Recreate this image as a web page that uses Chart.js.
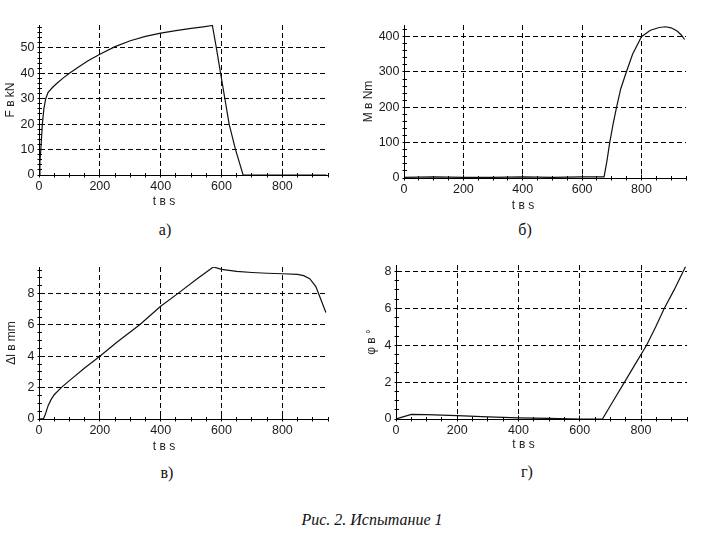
<!DOCTYPE html>
<html><head><meta charset="utf-8">
<script src="https://cdn.jsdelivr.net/npm/chart.js@4.4.1/dist/chart.umd.min.js"></script>
<style>
html,body{margin:0;padding:0;background:#fff;width:708px;height:539px;overflow:hidden;position:relative}
canvas{position:absolute}
.cap{position:absolute;font-family:"Liberation Serif","Times New Roman",serif;font-size:16px;color:#111;transform:translate(-50%,-50%);white-space:nowrap;line-height:1}
#fig{font-style:italic;font-size:16px}
</style></head><body>
<canvas id="cA"></canvas>
<canvas id="cB"></canvas>
<canvas id="cC"></canvas>
<canvas id="cD"></canvas>
<div class="cap" style="left:165px;top:230px">а)</div>
<div class="cap" style="left:525px;top:230px">б)</div>
<div class="cap" style="left:167px;top:473px">в)</div>
<div class="cap" style="left:527px;top:472px">г)</div>
<div class="cap" id="fig" style="left:372px;top:520px">Рис. 2. Испытание 1</div>
<script>
// ---- data ----
const tForce = [0, 3, 6, 11, 16, 22, 30, 45, 60, 80, 100, 130, 160, 200, 250, 300, 350, 400, 450, 500, 540, 570, 583, 597, 611, 625, 646, 671, 700, 800, 945];
const force  = [0, 5, 10, 20, 26, 30, 32.5, 34.5, 36.2, 38.2, 40, 42.5, 44.8, 47.5, 50.5, 52.8, 54.5, 55.8, 56.8, 57.7, 58.3, 58.8, 50, 40, 30, 20, 10, 0, 0, 0, 0];

const tMoment = [0, 100, 200, 300, 400, 500, 600, 674, 684, 693, 705, 716, 730, 749, 770, 800, 830, 860, 880, 900, 920, 935, 945];
const moment  = [2, 3, 2, 2, 3, 2, 3, 3, 50, 100, 155, 200, 252, 300, 350, 400, 418, 426, 428, 425, 416, 404, 392];

const tElong = [0, 15, 20, 25, 30, 40, 50, 73, 100, 150, 200, 259, 330, 400, 456, 520, 573, 600, 650, 700, 750, 800, 850, 870, 890, 910, 925, 943];
const elong  = [0, 0.03, 0.25, 0.55, 0.85, 1.25, 1.55, 2.0, 2.45, 3.25, 4.0, 4.95, 6.0, 7.2, 8.0, 8.95, 9.7, 9.55, 9.42, 9.35, 9.3, 9.27, 9.23, 9.15, 8.95, 8.45, 7.7, 6.8];

const tAngle = [0, 20, 50, 100, 200, 300, 400, 500, 600, 674, 710, 746, 782, 818, 848, 876, 908, 945];
const angle  = [0, 0.1, 0.25, 0.24, 0.18, 0.12, 0.06, 0.03, 0, 0, 1.0, 2.0, 3.0, 4.0, 5.0, 6.0, 7.0, 8.25];

const xTitle = 't в s';
const yTitles = ['F в kN', 'M в Nm', 'Δl в mm', 'φ в °'];
const tMax = 950;
const yMaxes = [59, 433, 9.7, 8.35];
const yMajor = [10, 100, 2, 2];
const yMinor = [2, 20, 0.5, 0.5];
const xMajor = 200, xMinor = 50;

const FONT = '"Liberation Sans", Arial, sans-serif';

const tickMarks = {
  id: 'tickMarks',
  afterDatasetsDraw(chart, args, o) {
    const {ctx, scales: {x, y}, chartArea: ca} = chart;
    ctx.save();
    ctx.strokeStyle = '#000';
    ctx.lineWidth = 1;
    ctx.beginPath();
    const yb = Math.round(ca.bottom - 0.5) + 0.5;
    const xl = Math.round(ca.left - 0.5) + 0.5;
    const eps = 1e-6;
    for (let v = 0; v <= x.max + eps; v += o.xMinor) {
      const px = Math.round(x.getPixelForValue(v) - 0.5) + 0.5;
      const major = Math.abs(v / o.xMajor - Math.round(v / o.xMajor)) < eps;
      ctx.moveTo(px, yb - (major ? 4 : 2.5));
      ctx.lineTo(px, yb + 2);
    }
    for (let v = 0; v <= y.max + eps; v += o.yMinor) {
      const py = Math.round(y.getPixelForValue(v) - 0.5) + 0.5;
      const major = Math.abs(v / o.yMajor - Math.round(v / o.yMajor)) < eps;
      ctx.moveTo(xl - 2, py);
      ctx.lineTo(xl + (major ? 4 : 2.5), py);
    }
    ctx.stroke();
    ctx.restore();
  }
};

function makeChart(id, pos, t, vals, idx) {
  const cv = document.getElementById(id);
  cv.width = pos.w; cv.height = pos.h;
  cv.style.left = pos.left + 'px'; cv.style.top = pos.top + 'px';
  cv.style.width = pos.w + 'px'; cv.style.height = pos.h + 'px';
  const P = Math.max(0, pos.tOff - 18 - 7.2);
  const padBottom = pos.h - (pos.axisY - pos.top) - 18 - P - 14.4;
  const pts = t.map((tv, i) => ({x: tv, y: vals[i]}));
  return new Chart(cv, {
    type: 'line',
    data: { datasets: [{ data: pts, borderColor: '#111', borderWidth: 1.2, pointRadius: 0, tension: 0, fill: false }] },
    options: {
      responsive: false, animation: false, devicePixelRatio: 1,
      layout: { padding: { left: 0, top: pos.padTop, right: pos.padRight, bottom: padBottom } },
      plugins: {
        legend: { display: false }, tooltip: { enabled: false },
        title: { display: true, text: xTitle, position: 'bottom', color: '#222',
                 font: { family: FONT, size: 12, weight: 'normal', lineHeight: 1.2 }, padding: { top: P, bottom: 0 } },
        tickMarks: { xMinor, xMajor, yMinor: yMinor[idx], yMajor: yMajor[idx] }
      },
      scales: {
        x: {
          type: 'linear', min: 0, max: tMax,
          afterFit(s) { s.height = 18; },
          ticks: { stepSize: xMajor, includeBounds: false, padding: 4, maxRotation: 0, color: '#1a1a1a', font: { family: FONT, size: 12.5 } },
          grid: { color: '#000', lineWidth: 1, drawTicks: false },
          border: { display: true, color: '#000', width: 1, dash: [5, 3] }
        },
        y: {
          min: 0, max: yMaxes[idx],
          afterFit(s) { s.width = pos.yW; },
          ticks: { stepSize: yMajor[idx], includeBounds: false, padding: 4.5, color: '#1a1a1a', font: { family: FONT, size: 12.5 } },
          grid: { color: '#000', lineWidth: 1, drawTicks: false },
          border: { display: true, color: '#000', width: 1, dash: [5, 3] },
          title: { display: true, text: yTitles[idx], color: '#222', font: { family: FONT, size: 12 }, padding: { top: pos.tPad, bottom: 0 } }
        }
      }
    },
    plugins: [tickMarks]
  });
}

makeChart('cA', {left: 0,   top: 0,   w: 342, h: 220, yW: 39, padTop: 25, padRight: 14, axisY: 175, tOff: 27, tPad: 3.6}, tForce, force, 0);
makeChart('cB', {left: 360, top: 0,   w: 329, h: 220, yW: 44, padTop: 25, padRight: 3,  axisY: 178, tOff: 28, tPad: 1.8}, tMoment, moment, 1);
makeChart('cC', {left: 0,   top: 240, w: 342, h: 220, yW: 39, padTop: 27, padRight: 14, axisY: 419, tOff: 28, tPad: 4.3}, tElong, elong, 2);
makeChart('cD', {left: 360, top: 240, w: 340, h: 220, yW: 36, padTop: 25, padRight: 13, axisY: 419, tOff: 25.5, tPad: 4.8}, tAngle, angle, 3);
</script>
</body></html>
